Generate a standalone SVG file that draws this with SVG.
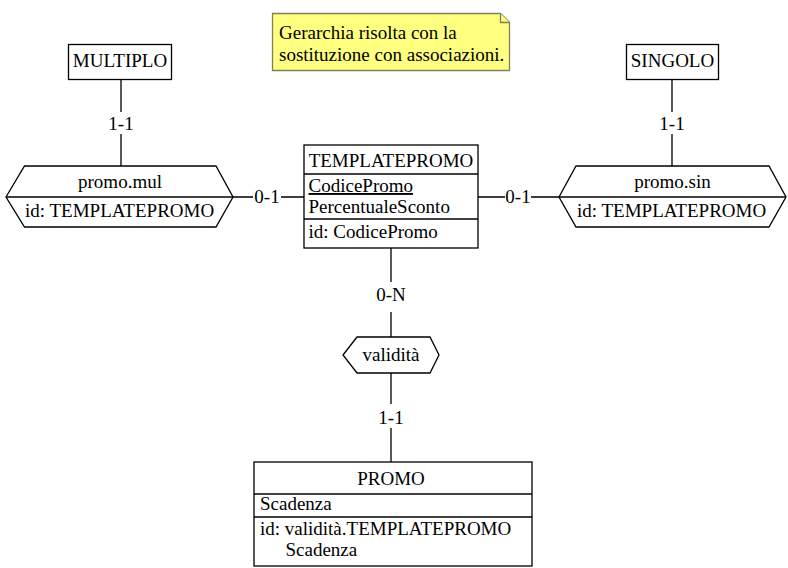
<svg xmlns="http://www.w3.org/2000/svg" width="788" height="568" viewBox="0 0 788 568">
<style>
text{font-family:"Liberation Serif","Times New Roman",serif;font-size:19px;fill:#000}
.c{text-anchor:middle}
.box{fill:#fff;stroke:#000;stroke-width:1.3}
.ln{stroke:#000;stroke-width:1.3;fill:none}
.note{fill:#ffff80;stroke:#808060;stroke-width:1.3}
</style>
<rect width="788" height="568" fill="#fff"/>
<g id="note">
<path class="note" d="M272.5,13.5 H500.5 L509.5,22.5 V70.5 H272.5 Z"/>
<path class="note" d="M500.5,13.5 V22.5 H509.5" fill="none"/>
<text x="279" y="39">Gerarchia risolta con la</text>
<text x="279" y="60.5">sostituzione con associazioni.</text>
</g>
<g id="connectors">
<path class="ln" d="M121,79 V112 M121,134 V166"/>
<path class="ln" d="M672,79 V112 M672,134 V166"/>
<path class="ln" d="M233,197 H253 M281,197 H304"/>
<path class="ln" d="M478,197 H505 M531,197 H559"/>
<path class="ln" d="M391,248 V282 M391,312 V337"/>
<path class="ln" d="M391,373 V404 M391,428 V462"/>
<text class="c" x="121" y="130">1-1</text>
<text class="c" x="672" y="130">1-1</text>
<text class="c" x="267" y="203">0-1</text>
<text class="c" x="518" y="203">0-1</text>
<text class="c" x="391" y="301">0-N</text>
<text class="c" x="391" y="424">1-1</text>
</g>
<g id="multiplo">
<rect class="box" x="68.5" y="44.5" width="103" height="35"/>
<text class="c" x="120" y="67">MULTIPLO</text>
</g>
<g id="singolo">
<rect class="box" x="626.5" y="44.5" width="92" height="35"/>
<text class="c" x="672.5" y="67">SINGOLO</text>
</g>
<g id="promo_mul">
<polygon class="box" points="6,197 24.5,166 216,166 233,197 216,227 24.5,227"/>
<line class="ln" x1="6" y1="197" x2="233" y2="197"/>
<text class="c" x="120" y="188">promo.mul</text>
<text x="25" y="217">id: TEMPLATEPROMO</text>
</g>
<g id="promo_sin">
<polygon class="box" points="559,197 576,166 769,166 786,197 769,227 576,227"/>
<line class="ln" x1="559" y1="197" x2="786" y2="197"/>
<text class="c" x="672.5" y="188">promo.sin</text>
<text x="577" y="217">id: TEMPLATEPROMO</text>
</g>
<g id="templatepromo">
<rect class="box" x="304" y="145" width="174" height="103"/>
<line class="ln" x1="304" y1="174" x2="478" y2="174"/>
<line class="ln" x1="304" y1="219" x2="478" y2="219"/>
<text class="c" x="391" y="167">TEMPLATEPROMO</text>
<text x="308.5" y="192" text-decoration="underline">CodicePromo</text>
<text x="308.5" y="213">PercentualeSconto</text>
<text x="308.5" y="238">id: CodicePromo</text>
</g>
<g id="validita">
<polygon class="box" points="343,355 357,337 430,337 439,355 430,373 357,373"/>
<text class="c" x="391" y="361">validità</text>
</g>
<g id="promo">
<rect class="box" x="254" y="462" width="278" height="104"/>
<line class="ln" x1="254" y1="494" x2="532" y2="494"/>
<line class="ln" x1="254" y1="517" x2="532" y2="517"/>
<text class="c" x="391" y="485">PROMO</text>
<text x="260" y="510">Scadenza</text>
<text x="260" y="535">id: validità.TEMPLATEPROMO</text>
<text x="285.5" y="556">Scadenza</text>
</g>
</svg>
